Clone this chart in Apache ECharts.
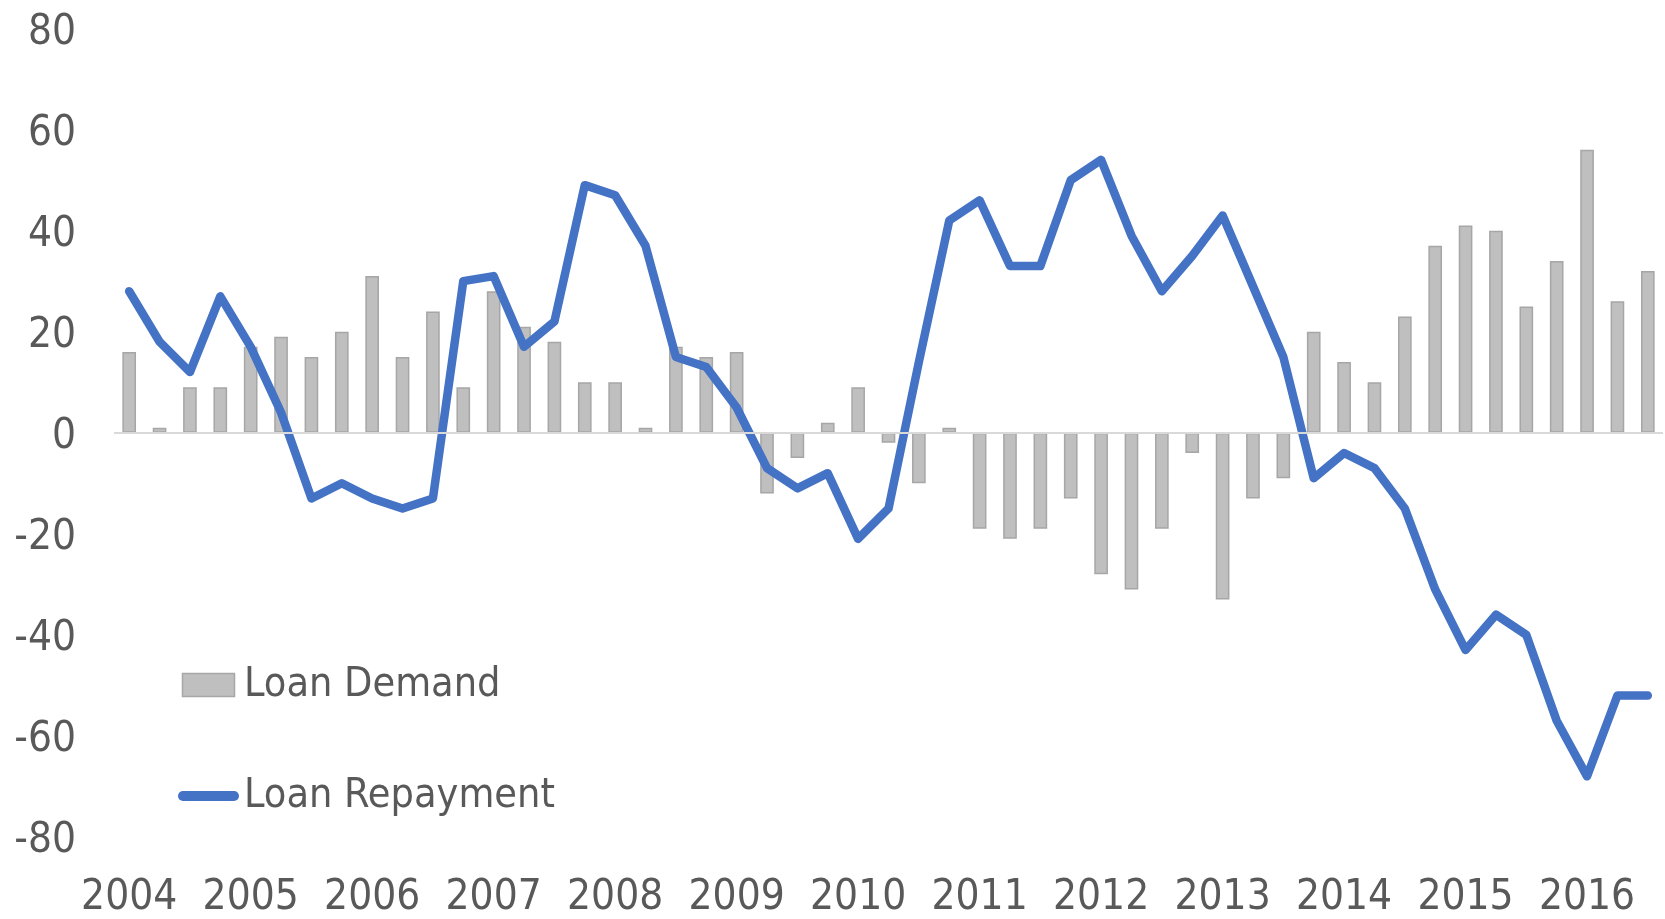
<!DOCTYPE html>
<html>
<head>
<meta charset="utf-8">
<script src="https://cdn.jsdelivr.net/npm/echarts@6/dist/echarts.min.js"></script>
<style>
  html, body { margin: 0; padding: 0; background: #ffffff; }
  #chart { width: 1665px; height: 919px; }
</style>
</head>
<body>
<div id="chart"></div>
<script>
const quarters = [
  '2004 Q1','2004 Q2','2004 Q3','2004 Q4',
  '2005 Q1','2005 Q2','2005 Q3','2005 Q4',
  '2006 Q1','2006 Q2','2006 Q3','2006 Q4',
  '2007 Q1','2007 Q2','2007 Q3','2007 Q4',
  '2008 Q1','2008 Q2','2008 Q3','2008 Q4',
  '2009 Q1','2009 Q2','2009 Q3','2009 Q4',
  '2010 Q1','2010 Q2','2010 Q3','2010 Q4',
  '2011 Q1','2011 Q2','2011 Q3','2011 Q4',
  '2012 Q1','2012 Q2','2012 Q3','2012 Q4',
  '2013 Q1','2013 Q2','2013 Q3','2013 Q4',
  '2014 Q1','2014 Q2','2014 Q3','2014 Q4',
  '2015 Q1','2015 Q2','2015 Q3','2015 Q4',
  '2016 Q1','2016 Q2','2016 Q3'
];

const loanDemand = [
  16, 1, 9, 9,
  17, 19, 15, 20,
  31, 15, 24, 9,
  28, 21, 18, 10,
  10, 1, 17, 15,
  16, -12, -5, 2,
  9, -2, -10, 1,
  -19, -21, -19, -13,
  -28, -31, -19, -4,
  -33, -13, -9, 20,
  14, 10, 23, 37,
  41, 40, 25, 34,
  56, 26, 32
];

const loanRepayment = [
  28, 18, 12, 27,
  17, 4, -13, -10,
  -13, -15, -13, 30,
  31, 17, 22, 49,
  47, 37, 15, 13,
  5, -7, -11, -8,
  -21, -15, 14, 42,
  46, 33, 33, 50,
  54, 39, 28, 35,
  43, 29, 15, -9,
  -4, -7, -15, -31,
  -43, -36, -40, -57,
  -68, -52, -52
];

const yTicks = { min: -80, max: 80, interval: 20 };

const FONT = "'DejaVu Sans Condensed', 'Noto Sans', sans-serif";
const TEXT_COLOR = '#595959';
const BAR_FILL = '#BFBFBF';
const BAR_BORDER = '#A6A6A6';
const LINE_COLOR = '#4472C4';

const chart = echarts.init(document.getElementById('chart'), null, { renderer: 'canvas' });

chart.setOption({
  animation: false,
  backgroundColor: '#ffffff',
  grid: { left: 114, right: 2, top: 28.5, bottom: 78, containLabel: false },
  legend: {
    orient: 'vertical',
    left: 178,
    top: 663,
    padding: 0,
    itemWidth: 61,
    itemHeight: 23,
    itemGap: 67,
    itemTextGap: -4,
    textStyle: { fontFamily: FONT, fontSize: 41, color: TEXT_COLOR, lineHeight: 44 },
    data: [
      {
        name: 'Loan Demand',
        icon: 'path://M0,0 H52 V23 H0 Z',
        itemStyle: { color: BAR_FILL, borderColor: BAR_BORDER, borderWidth: 1.5 }
      },
      {
        name: 'Loan Repayment',
        icon: 'path://M5,0 H56 A5,5 0 0 1 56,10 H5 A5,5 0 0 1 5,0 Z',
        itemStyle: { color: LINE_COLOR, borderWidth: 0 }
      }
    ]
  },
  xAxis: {
    type: 'category',
    data: quarters,
    boundaryGap: true,
    axisLine: { show: false, onZero: false },
    axisTick: { show: false },
    splitLine: { show: false },
    axisLabel: {
      interval: 3,
      margin: 40,
      fontFamily: FONT,
      fontSize: 42,
      color: TEXT_COLOR,
      formatter: function (v) { return v.slice(0, 4); }
    }
  },
  yAxis: {
    type: 'value',
    min: yTicks.min,
    max: yTicks.max,
    interval: yTicks.interval,
    axisLine: { show: false },
    axisTick: { show: false },
    splitLine: { show: false },
    axisLabel: {
      margin: 38,
      fontFamily: FONT,
      fontSize: 42,
      color: TEXT_COLOR,
      formatter: function (v) { return '{v|' + v + '}'; },
      rich: {
        v: { fontFamily: FONT, fontSize: 42, color: TEXT_COLOR, padding: [9, 0, 0, 0] }
      }
    }
  },
  series: [
    {
      name: 'Loan Demand',
      type: 'bar',
      data: loanDemand,
      barWidth: '45%',
      itemStyle: { color: BAR_FILL, borderColor: BAR_BORDER, borderWidth: 1.5 },
      markLine: {
        silent: true,
        symbol: ['none', 'none'],
        label: { show: false },
        lineStyle: { color: '#D9D9D9', width: 2, type: 'solid' },
        data: [{ yAxis: 0 }]
      }
    },
    {
      name: 'Loan Repayment',
      type: 'line',
      data: loanRepayment,
      symbol: 'none',
      showSymbol: false,
      lineStyle: { color: LINE_COLOR, width: 8.5, join: 'round', cap: 'round' },
      itemStyle: { color: LINE_COLOR }
    }
  ]
});
</script>
</body>
</html>
